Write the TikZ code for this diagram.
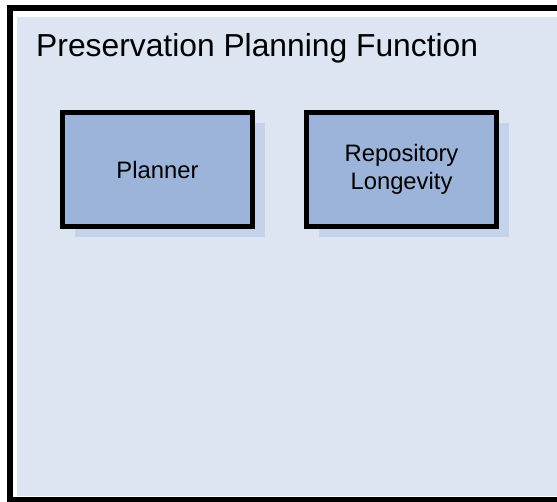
\documentclass[tikz,border=0pt]{standalone}
\usepackage{fontspec}
\setmainfont{Liberation Sans}
\definecolor{bgfill}{HTML}{DCE5F1}
\definecolor{boxfill}{HTML}{9CB4D9}
\definecolor{shadowfill}{HTML}{C5D3EA}
\begin{document}
\begin{tikzpicture}[x=1pt,y=-1pt,
  compbox/.style={draw=black,line width=5pt,fill=boxfill,minimum width=190pt,minimum height=114pt,inner sep=0pt,align=center,font=\fontsize{23.8}{28}\selectfont},
  shadowbox/.style={fill=shadowfill,minimum width=190pt,minimum height=114pt,inner sep=0pt,draw=none}]
\useasboundingbox (0,0) rectangle (557,502);
\begin{scope}
\clip (0,0) rectangle (557,502);
\draw[line width=6pt,fill=white] (10,8) rectangle (620,499.5);
\fill[bgfill] (17,17) rectangle (557,496);
\end{scope}
\node[anchor=base west,inner sep=0pt,font=\fontsize{31.8}{36}\selectfont] (title) at (36,57) {Preservation Planning Function};
\node[shadowbox] (plannershadow) at (169.5,180.5) {};
\node[shadowbox] (reposhadow) at (413.5,180.5) {};
\node[compbox] (planner) at (157.5,169.5) {Planner};
\node[compbox] (repo) at (401.5,169.5) {Repository\\Longevity};
\end{tikzpicture}
\end{document}
